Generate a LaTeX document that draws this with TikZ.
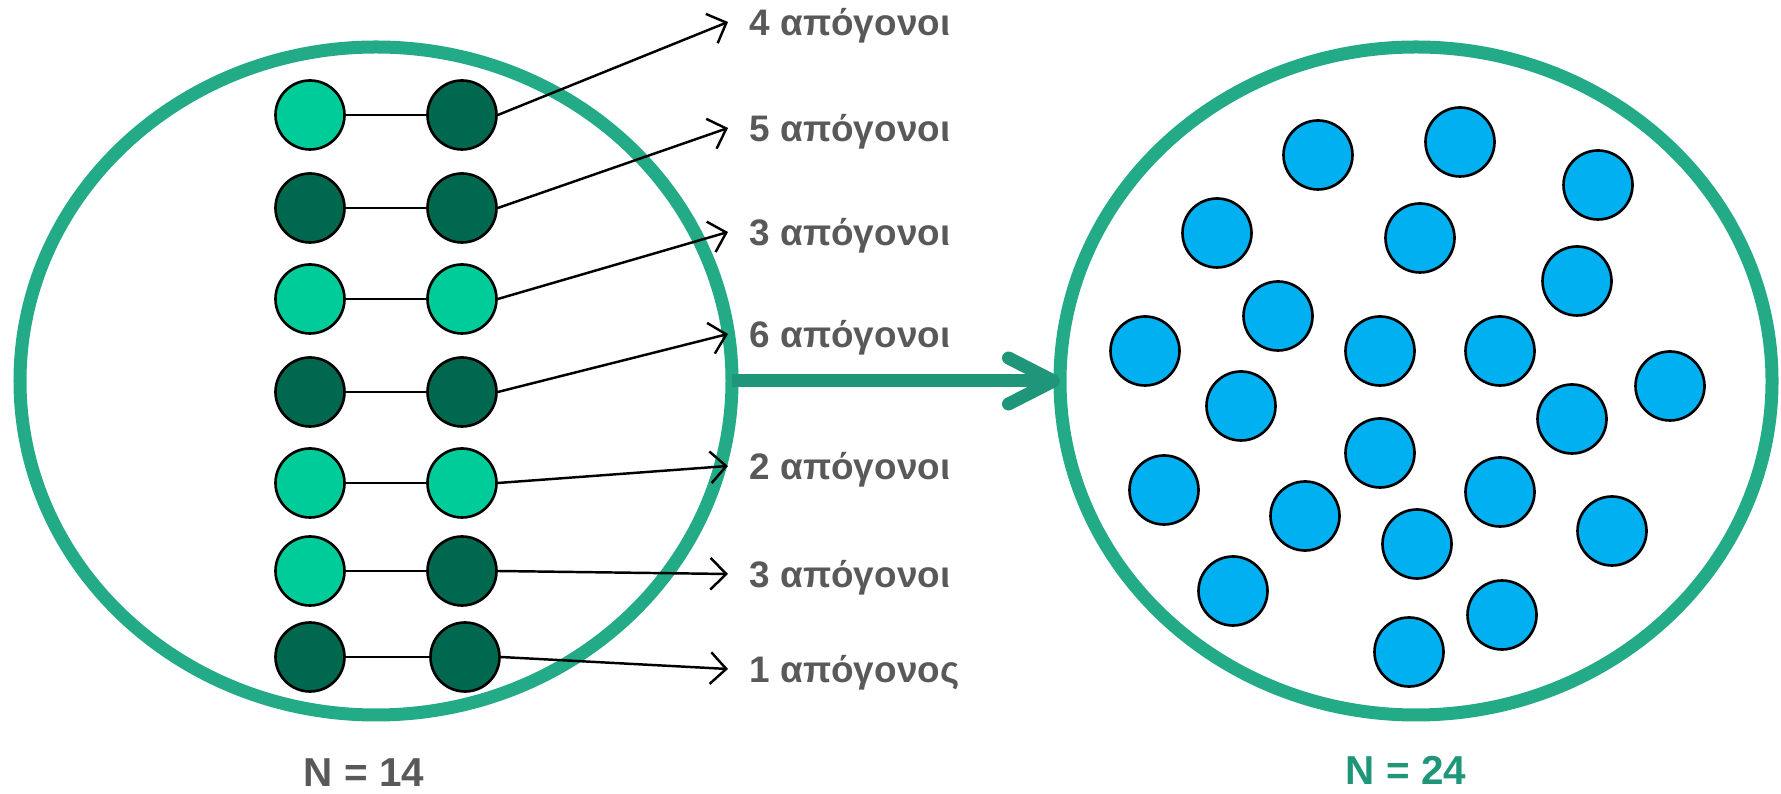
\documentclass[tikz,border=0pt]{standalone}
\usepackage{fontspec}
\setmainfont{Liberation Sans}
\usepackage{xcolor}
\usetikzlibrary{shapes,arrows.meta,positioning}

\definecolor{poolgreen}{RGB}{35,170,134}
\definecolor{flowgreen}{RGB}{31,150,121}
\definecolor{lightallele}{RGB}{0,204,153}
\definecolor{darkallele}{RGB}{0,104,78}
\definecolor{offspring}{RGB}{0,176,240}
\definecolor{labelgray}{RGB}{89,89,89}

\begin{document}
\begin{tikzpicture}[
    pool/.style={ellipse, draw=poolgreen, line width=3.7pt, minimum width=7.12cm, minimum height=6.68cm, inner sep=0pt, outer sep=0pt},
    parent/.style={circle, draw=black, line width=0.75pt, minimum size=0.69cm, inner sep=0pt},
    young/.style={circle, draw=black, line width=0.75pt, fill=offspring, minimum size=0.69cm, inner sep=0pt},
    kids/.style={font=\bfseries\fontsize{10.5}{12}\selectfont, text=labelgray, inner sep=0pt, text height=7.5pt, text depth=0pt, anchor=west},
    popsize/.style={font=\bfseries\fontsize{11.5}{13}\selectfont, inner sep=0pt, anchor=base},
    link/.style={line width=0.7pt},
    >={Straight Barb[length=4.5pt, width=9pt]}
]
    \useasboundingbox (0,0) rectangle (17.81,7.94);

    % Parent generation and next generation
    \node[pool] (pool1) at (3.76,4.13) {};
    \node[pool] (pool2) at (14.16,4.13) {};
    \draw[flowgreen, line width=3.7pt, -{Straight Barb[length=4.5mm, width=4.6mm, round]}] (pool1.east) -- (pool2.west);

    % Mating pairs (left allele / right allele)
    \node[parent, fill=lightallele] (a1) at (3.10,6.79) {};
    \node[parent, fill=darkallele]  (b1) at (4.62,6.79) {};
    \node[parent, fill=darkallele]  (a2) at (3.10,5.86) {};
    \node[parent, fill=darkallele]  (b2) at (4.62,5.86) {};
    \node[parent, fill=lightallele] (a3) at (3.10,4.95) {};
    \node[parent, fill=lightallele] (b3) at (4.62,4.95) {};
    \node[parent, fill=darkallele]  (a4) at (3.10,4.02) {};
    \node[parent, fill=darkallele]  (b4) at (4.62,4.02) {};
    \node[parent, fill=lightallele] (a5) at (3.10,3.11) {};
    \node[parent, fill=lightallele] (b5) at (4.62,3.11) {};
    \node[parent, fill=lightallele] (a6) at (3.10,2.23) {};
    \node[parent, fill=darkallele]  (b6) at (4.62,2.23) {};
    \node[parent, fill=darkallele]  (a7) at (3.10,1.37) {};
    \node[parent, fill=darkallele]  (b7) at (4.65,1.37) {};
    \draw[link] (a1) -- (b1);
    \draw[link] (a2) -- (b2);
    \draw[link] (a3) -- (b3);
    \draw[link] (a4) -- (b4);
    \draw[link] (a5) -- (b5);
    \draw[link] (a6) -- (b6);
    \draw[link] (a7) -- (b7);

    % Number of offspring per pair
    \node[kids] (k1) at (7.49,7.72) {4 απόγονοι};
    \node[kids] (k2) at (7.49,6.66) {5 απόγονοι};
    \node[kids] (k3) at (7.49,5.62) {3 απόγονοι};
    \node[kids] (k4) at (7.49,4.60) {6 απόγονοι};
    \node[kids] (k5) at (7.49,3.28) {2 απόγονοι};
    \node[kids] (k6) at (7.49,2.20) {3 απόγονοι};
    \node[kids] (k7) at (7.49,1.25) {1 απόγονος};
    \draw[link, ->] (b1.east) -- ([xshift=-0.21cm]k1.west);
    \draw[link, ->] (b2.east) -- ([xshift=-0.21cm]k2.west);
    \draw[link, ->] (b3.east) -- ([xshift=-0.21cm]k3.west);
    \draw[link, ->] (b4.east) -- ([xshift=-0.21cm]k4.west);
    \draw[link, ->] (b5.east) -- ([xshift=-0.21cm]k5.west);
    \draw[link, ->] (b6.east) -- ([xshift=-0.21cm]k6.west);
    \draw[link, ->] (b7.east) -- ([xshift=-0.21cm]k7.west);

    % Offspring
    \node[young] (c1)  at (13.18,6.39) {};
    \node[young] (c2)  at (14.60,6.52) {};
    \node[young] (c3)  at (15.98,6.09) {};
    \node[young] (c4)  at (12.17,5.61) {};
    \node[young] (c5)  at (14.20,5.56) {};
    \node[young] (c6)  at (15.77,5.13) {};
    \node[young] (c7)  at (12.78,4.78) {};
    \node[young] (c8)  at (11.45,4.43) {};
    \node[young] (c9)  at (13.80,4.43) {};
    \node[young] (c10) at (15.00,4.43) {};
    \node[young] (c11) at (16.70,4.08) {};
    \node[young] (c12) at (12.41,3.88) {};
    \node[young] (c13) at (15.72,3.75) {};
    \node[young] (c14) at (13.80,3.41) {};
    \node[young] (c15) at (11.64,3.04) {};
    \node[young] (c16) at (15.00,3.02) {};
    \node[young] (c17) at (13.05,2.78) {};
    \node[young] (c18) at (14.17,2.50) {};
    \node[young] (c19) at (16.12,2.63) {};
    \node[young] (c20) at (12.33,2.03) {};
    \node[young] (c21) at (15.02,1.79) {};
    \node[young] (c22) at (14.09,1.42) {};

    % Population sizes
    \node[popsize, text=labelgray] (n1) at (3.64,0.07) {N = 14};
    \node[popsize, text=flowgreen] (n2) at (14.06,0.09) {N = 24};
\end{tikzpicture}
\end{document}
